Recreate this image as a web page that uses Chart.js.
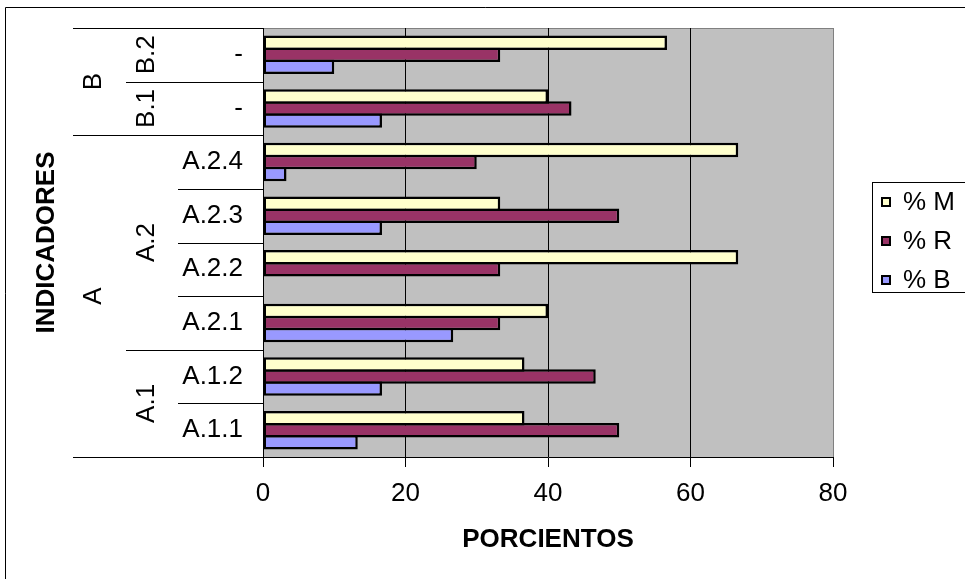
<!DOCTYPE html>
<html><head><meta charset="utf-8">
<script src="https://cdn.jsdelivr.net/npm/chart.js@4.4.1/dist/chart.umd.min.js"></script>
<style>html,body{margin:0;padding:0;background:#fff;overflow:hidden}#wrap{width:965px;height:579px;position:relative}</style>
</head><body><div id="wrap"><canvas id="c"></canvas></div>
<script>
// Categories listed top to bottom
const categories = ['-', '-', 'A.2.4', 'A.2.3', 'A.2.2', 'A.2.1', 'A.1.2', 'A.1.1'];
const level2Labels = ['B.2', 'B.1', 'A.2', 'A.1'];
const level2Spans = [1, 1, 4, 2];
const level3Labels = ['B', 'A'];
const level3Spans = [2, 6];
const seriesNames = ['% M', '% R', '% B'];
const valuesM = [56.7, 40, 66.7, 33.3, 66.7, 40, 36.7, 36.7];
const valuesR = [33.3, 43.3, 30, 50, 33.3, 33.3, 46.7, 50];
const valuesB = [10, 16.7, 3.3, 16.7, 0, 26.7, 16.7, 13.3];
const xTicks = [0, 20, 40, 60, 80];
const xTitle = 'PORCIENTOS';
const yTitle = 'INDICADORES';

const FONT = "'Liberation Sans', Arial, sans-serif";
Chart.defaults.font.family = FONT;
Chart.defaults.color = '#000';

const decor = {
  id: 'decor',
  beforeDraw(chart) {
    const {ctx, chartArea: a} = chart;
    ctx.save();
    ctx.fillStyle = '#fff'; ctx.fillRect(0, 0, chart.width, chart.height);
    ctx.fillStyle = '#C0C0C0'; ctx.fillRect(a.left, a.top, a.right - a.left, a.bottom - a.top);
    ctx.strokeStyle = '#808080'; ctx.lineWidth = 1;
    ctx.beginPath(); ctx.moveTo(a.left, a.top + 0.5); ctx.lineTo(a.right + 0.5, a.top + 0.5); ctx.lineTo(a.right + 0.5, a.bottom); ctx.stroke();
    ctx.strokeStyle = '#000';
    ctx.beginPath(); ctx.moveTo(5.5, chart.height + 5); ctx.lineTo(5.5, 7.5); ctx.lineTo(chart.width + 5, 7.5); ctx.stroke();
    ctx.restore();
  },
  afterDraw(chart) {
    const {ctx, chartArea: a} = chart;
    const ys = chart.scales.y;
    const n = categories.length;
    const bound = i => i === 0 ? a.top : i === n ? a.bottom : (ys.getPixelForValue(i - 1) + ys.getPixelForValue(i)) / 2;
    const l3b = new Set([0]); let acc = 0; level3Spans.forEach(s => { acc += s; l3b.add(acc); });
    const l2b = new Set([0]); acc = 0; level2Spans.forEach(s => { acc += s; l2b.add(acc); });
    ctx.save();
    ctx.strokeStyle = '#000'; ctx.lineWidth = 1;
    for (let i = 0; i <= n; i++) {
      const y = Math.round(bound(i)) + 0.5;
      const x0 = l3b.has(i) ? 73 : (l2b.has(i) ? 126 : 178);
      ctx.beginPath(); ctx.moveTo(x0, y); ctx.lineTo(a.left, y); ctx.stroke();
    }
    ctx.fillStyle = '#000';
    ctx.font = '26px ' + FONT;
    ctx.textAlign = 'center'; ctx.textBaseline = 'middle';
    const drawRot = (txt, x, y) => { ctx.save(); ctx.translate(x, y); ctx.rotate(-Math.PI / 2); ctx.fillText(txt, 0, 0); ctx.restore(); };
    acc = 0;
    level2Labels.forEach((lab, k) => { const y0 = bound(acc), y1 = bound(acc + level2Spans[k]); drawRot(lab, 147, (y0 + y1) / 2); acc += level2Spans[k]; });
    acc = 0;
    level3Labels.forEach((lab, k) => { const y0 = bound(acc), y1 = bound(acc + level3Spans[k]); drawRot(lab, 94, (y0 + y1) / 2); acc += level3Spans[k]; });
    // legend
    ctx.strokeStyle = '#000'; ctx.lineWidth = 1;
    ctx.strokeRect(872.5, 182.5, 200, 110);
    ctx.textAlign = 'left';
    chart.data.datasets.forEach((ds, k) => {
      const cy = 202 + k * 39;
      ctx.fillStyle = ds.backgroundColor; ctx.fillRect(881, cy - 5, 10, 10);
      ctx.lineWidth = 2; ctx.strokeStyle = '#000'; ctx.strokeRect(882, cy - 4, 8, 8);
      ctx.fillStyle = '#000'; ctx.fillText(ds.label, 903, cy + 1);
    });
    ctx.restore();
  }
};

new Chart(document.getElementById('c'), {
  type: 'bar',
  data: {
    labels: categories,
    datasets: [
      {label: seriesNames[0], data: valuesM, backgroundColor: '#FFFFCC'},
      {label: seriesNames[1], data: valuesR, backgroundColor: '#993366'},
      {label: seriesNames[2], data: valuesB, backgroundColor: '#9999FF'}
    ].map(d => Object.assign(d, {borderColor: '#000', borderWidth: 2.5, borderSkipped: false, inflateAmount: 0,
      categoryPercentage: 0.672, barPercentage: 1.2083}))
  },
  options: {
    indexAxis: 'y',
    responsive: true, maintainAspectRatio: false, animation: false, devicePixelRatio: 1,
    layout: {padding: {top: 28, right: 132, bottom: 0, left: 0}},
    plugins: {legend: {display: false}, tooltip: {enabled: false}},
    scales: {
      x: {
        type: 'linear', min: xTicks[0], max: xTicks[xTicks.length - 1],
        afterBuildTicks: s => { s.ticks = xTicks.map(v => ({value: v})); },
        ticks: {font: {size: 26}, padding: 11, color: '#000'},
        grid: {color: c => (c.tick && c.tick.value === 80) ? '#808080' : '#000', tickColor: '#000', tickLength: 10, lineWidth: 1},
        border: {display: true, color: '#000', width: 1},
        title: {display: true, text: xTitle, font: {size: 26, weight: 'bold'}, padding: {top: 0, bottom: 24}, color: '#000'},
        afterFit: s => { s.height = 122; }
      },
      y: {
        type: 'category',
        ticks: {font: {size: 26}, padding: 20, autoSkip: false, color: '#000'},
        grid: {display: false, drawTicks: false},
        border: {display: true, color: '#000', width: 1},
        title: {display: true, text: yTitle, font: {size: 26, weight: 'bold'}, padding: {top: 31, bottom: 0}, color: '#000'},
        afterFit: s => { s.width = 263; s.paddingTop = 0; s.paddingBottom = 0; }
      }
    }
  },
  plugins: [decor]
});
</script>
</body></html>
